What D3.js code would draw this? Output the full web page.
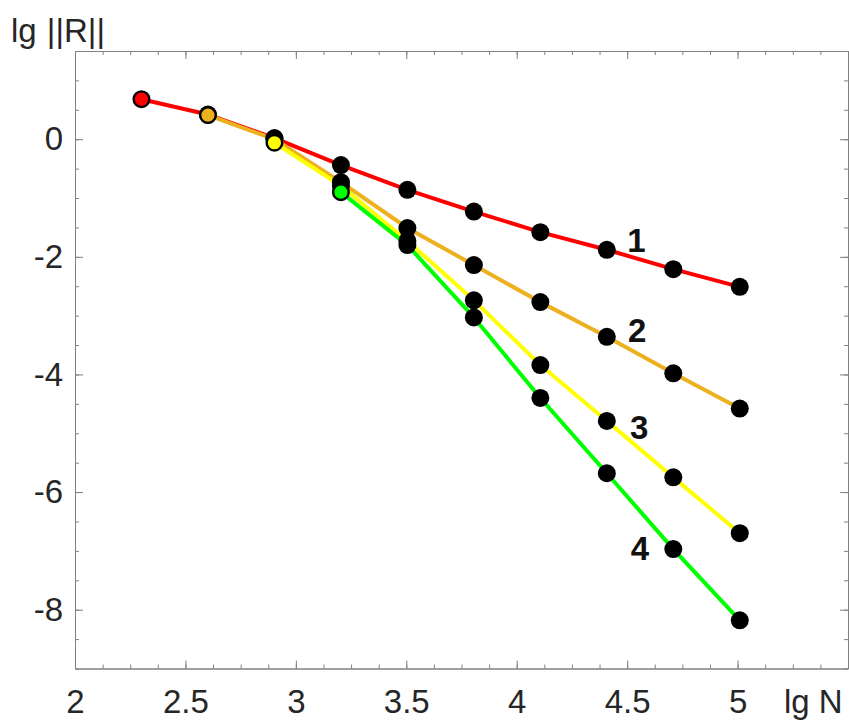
<!DOCTYPE html>
<html>
<head>
<meta charset="utf-8">
<script src="https://cdn.jsdelivr.net/npm/d3@7"></script>
<style>
  body { margin: 0; background: #fff; }
  svg { display: block; }
</style>
</head>
<body>
<svg id="chart" width="849" height="722"></svg>
<script>
// lg N for N = 200 * 2^k
const lgN = [2.301, 2.602, 2.903, 3.204, 3.505, 3.806, 4.107, 4.408, 4.709, 5.01];

// lg ||R|| for each curve (null = no point at that N)
const series1 = [0.68, 0.42, 0.02, -0.44, -0.86, -1.23, -1.58, -1.88, -2.21, -2.51];
const series2 = [null, 0.41, 0.00, -0.73, -1.51, -2.14, -2.77, -3.36, -3.98, -4.58];
const series3 = [null, null, -0.06, -0.79, -1.73, -2.74, -3.84, -4.79, -5.75, -6.70];
const series4 = [null, null, null, -0.90, -1.80, -3.03, -4.40, -5.68, -6.97, -8.18];

const seriesNames = ["1", "2", "3", "4"];
const seriesColors = ["#ff0000", "#edb120", "#ffff00", "#00ff00"];

const xTicks = [2, 2.5, 3, 3.5, 4, 4.5, 5];
const yTicks = [0, -2, -4, -6, -8];
const xLabel = "lg N";
const yLabel = "lg ||R||";

const svg = d3.select("#chart");
const FONT = "'Liberation Sans', Arial, Helvetica, sans-serif";
const AXIS_COLOR = "#808080";
const TEXT_COLOR = "#262626";
const FONT_SIZE = "33px";

const x = d3.scaleLinear().domain([2, 5.5]).range([75, 848]);
const y = d3.scaleLinear().domain([-9, 1.5]).range([668.5, 51]);

const minorX = d3.range(2, 5.5001, 0.125);
const minorY = d3.range(-9, 1.5001, 0.5);

function styleAxis(sel) {
  sel.selectAll("path.domain").attr("stroke", AXIS_COLOR).attr("stroke-width", 1);
  sel.selectAll(".tick line").attr("stroke", AXIS_COLOR).attr("stroke-width", 1);
  sel.selectAll(".tick text")
    .attr("fill", TEXT_COLOR)
    .style("font-family", FONT)
    .style("font-size", FONT_SIZE);
}

const axes = svg.append("g");

// bottom: minor + major ticks pointing inward, labels below
axes.append("g").attr("transform", `translate(0,${y(-9)})`)
  .call(d3.axisBottom(x).tickValues(minorX).tickSize(-4).tickSizeOuter(0).tickFormat(""))
  .call(styleAxis);
axes.append("g").attr("transform", `translate(0,${y(-9)})`)
  .call(d3.axisBottom(x).tickValues(xTicks).tickSize(-8).tickSizeOuter(0).tickPadding(21)
    .tickFormat(d => String(d)))
  .call(styleAxis);

// top mirror
axes.append("g").attr("transform", `translate(0,${y(1.5)})`)
  .call(d3.axisTop(x).tickValues(minorX).tickSize(-4).tickSizeOuter(0).tickFormat(""))
  .call(styleAxis);
axes.append("g").attr("transform", `translate(0,${y(1.5)})`)
  .call(d3.axisTop(x).tickValues(xTicks).tickSize(-8).tickSizeOuter(0).tickFormat(""))
  .call(styleAxis);

// left: minor + major ticks, labels
axes.append("g").attr("transform", `translate(${x(2)},0)`)
  .call(d3.axisLeft(y).tickValues(minorY).tickSize(-4).tickSizeOuter(0).tickFormat(""))
  .call(styleAxis);
axes.append("g").attr("transform", `translate(${x(2)},0)`)
  .call(d3.axisLeft(y).tickValues(yTicks).tickSize(-8).tickSizeOuter(0).tickPadding(12)
    .tickFormat(d => String(d)))
  .call(styleAxis);

// right mirror
axes.append("g").attr("transform", `translate(${x(5.5)},0)`)
  .call(d3.axisRight(y).tickValues(minorY).tickSize(-4).tickSizeOuter(0).tickFormat(""))
  .call(styleAxis);
axes.append("g").attr("transform", `translate(${x(5.5)},0)`)
  .call(d3.axisRight(y).tickValues(yTicks).tickSize(-8).tickSizeOuter(0).tickFormat(""))
  .call(styleAxis);

// axis titles
svg.append("text")
  .attr("x", 11).attr("y", 42)
  .attr("fill", TEXT_COLOR)
  .style("font-family", FONT).style("font-size", FONT_SIZE)
  .style("word-spacing", "1px")
  .text(yLabel);
svg.append("text")
  .attr("x", 784).attr("y", 713)
  .attr("fill", TEXT_COLOR)
  .style("font-family", FONT).style("font-size", FONT_SIZE)
  .text(xLabel);

// curves
const allSeries = [series1, series2, series3, series4].map((vals, i) => ({
  name: seriesNames[i],
  color: seriesColors[i],
  points: lgN.map((n, j) => ({ n, v: vals[j] })).filter(p => p.v !== null)
}));

const line = d3.line().x(p => x(p.n)).y(p => y(p.v));

const plot = svg.append("g");
plot.selectAll("path.curve")
  .data(allSeries)
  .join("path")
  .attr("class", "curve")
  .attr("d", s => line(s.points))
  .attr("fill", "none")
  .attr("stroke", s => s.color)
  .attr("stroke-width", 4)
  .attr("stroke-linejoin", "round");

// markers: first point of each curve in its colour, the rest black
allSeries.forEach(s => {
  plot.append("g").selectAll("circle")
    .data(s.points)
    .join("circle")
    .attr("cx", p => x(p.n))
    .attr("cy", p => y(p.v))
    .attr("r", (p, j) => j === 0 ? 7.8 : 9)
    .attr("fill", (p, j) => j === 0 ? s.color : "#000")
    .attr("stroke", "#000")
    .attr("stroke-width", (p, j) => j === 0 ? 2.4 : 0);
});

// curve numbers
const numberAt = [[4.542, -1.915], [4.546, -3.445], [4.555, -5.09], [4.558, -7.15]];
svg.append("g").selectAll("text")
  .data(allSeries)
  .join("text")
  .attr("x", (s, i) => x(numberAt[i][0]))
  .attr("y", (s, i) => y(numberAt[i][1]))
  .attr("text-anchor", "middle")
  .attr("fill", "#111")
  .style("font-family", FONT)
  .style("font-size", "33px")
  .style("font-weight", "bold")
  .text(s => s.name);
</script>
</body>
</html>
